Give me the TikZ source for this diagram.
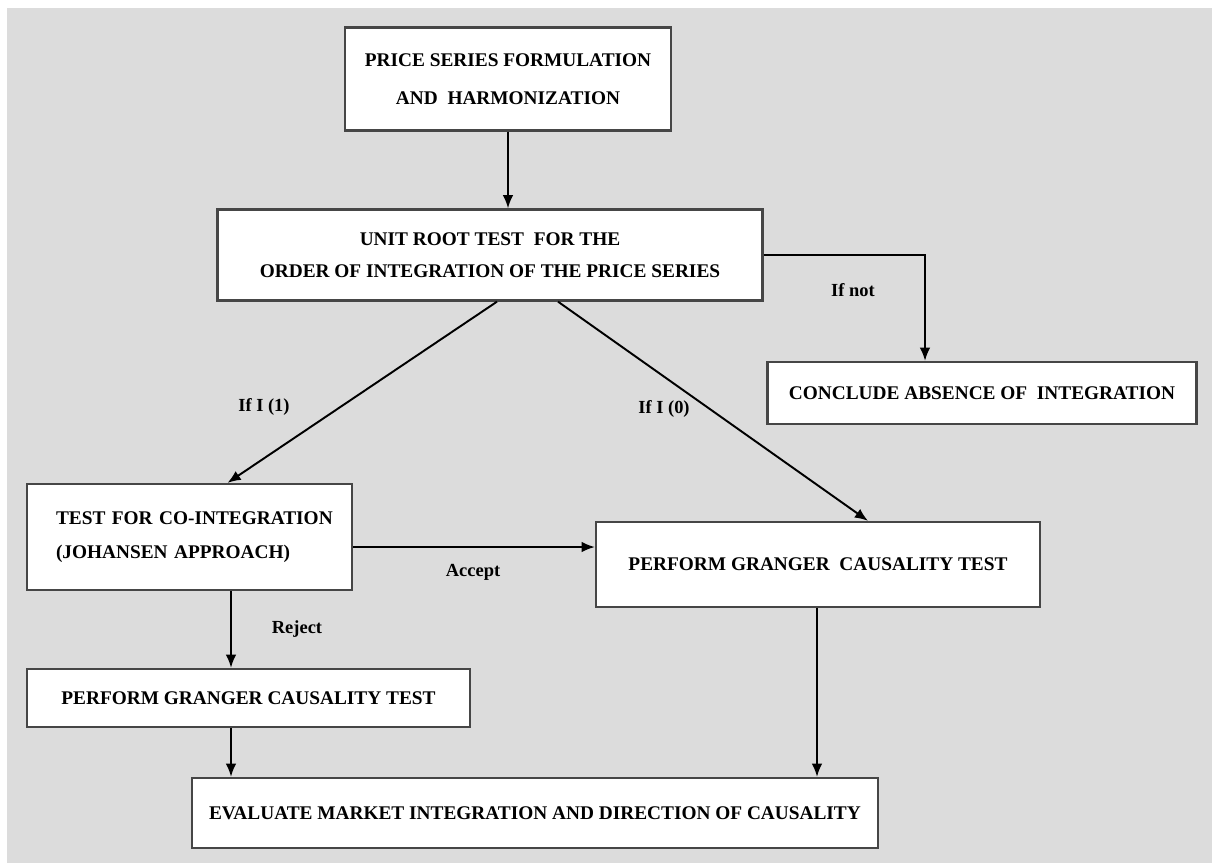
\documentclass[tikz,border=0pt]{standalone}
\usepackage{fontspec}
\setmainfont{Liberation Serif}
\usetikzlibrary{arrows.meta,calc}
\definecolor{bgGray}{RGB}{220,220,220}
\definecolor{boxLine}{RGB}{70,70,70}

\begin{document}
\begin{tikzpicture}[x=0.02cm,y=-0.02cm,
    box/.style={draw=boxLine,line width=1.3pt,fill=white,align=center,inner sep=0pt,
        font=\bfseries\fontsize{11}{18}\selectfont},
    arr/.style={-{Latex[length=7.5pt,width=6pt]},line width=1.1pt},
    lbl/.style={font=\bfseries\fontsize{10.5}{13}\selectfont}]

        % page with the grey panel
        \useasboundingbox (0,0) rectangle (1212,863);
        \fill[white] (0,0) rectangle (1212,863);
        \fill[bgGray] (7,8) rectangle (1212,863);

        % boxes
        \node[box,minimum width=6.52cm,minimum height=2.06cm,font=\bfseries\fontsize{11}{21.5}\selectfont]
            (prep) at (508,79) {PRICE SERIES FORMULATION\\AND\ \ HARMONIZATION};
        \node[box,minimum width=10.9cm,minimum height=1.82cm]
            (unitroot) at (490,255) {UNIT ROOT TEST\ \ FOR THE\\ORDER OF INTEGRATION OF THE PRICE SERIES};
        \node[box,minimum width=8.58cm,minimum height=1.24cm]
            (absent) at (982,393) {CONCLUDE ABSENCE OF\ \ INTEGRATION};
        \node[box,text width=5.34cm,inner xsep=0.58cm,align=left,minimum height=2.12cm,font=\bfseries\fontsize{11}{19}\selectfont]
            (coint) at (189.5,537) {\mbox{TEST FOR CO-INTEGRATION}\\(JOHANSEN APPROACH)};
        \node[box,minimum width=8.88cm,minimum height=1.7cm]
            (grangerR) at (818,564.5) {PERFORM GRANGER\ \ CAUSALITY TEST};
        \node[box,minimum width=8.86cm,minimum height=1.16cm]
            (grangerL) at (248.5,698) {PERFORM GRANGER CAUSALITY TEST};
        \node[box,minimum width=13.72cm,minimum height=1.4cm]
            (evaluate) at (535,813) {EVALUATE MARKET INTEGRATION AND DIRECTION OF CAUSALITY};

        % columns and bends for the arrows
        \coordinate (colA) at (231,0);
        \coordinate (colB) at (817,0);
        \coordinate (knee) at (925,255);
        \coordinate (acc) at ($(coint.east)+(0,10)$);

        % connectors
        \draw[arr] (prep.south) -- (prep.south |- unitroot.north);
        \draw[arr] (unitroot.east) -- (knee) -- (knee |- absent.north);
        \draw[arr] ($(unitroot.south)+(7,0)$) -- ($(coint.north)+(38,0)$);
        \draw[arr] ($(unitroot.south)+(68,0)$) -- ($(grangerR.north)+(50,0)$);
        \draw[arr] (acc) -- (acc -| grangerR.west);
        \draw[arr] (coint.south -| colA) -- (grangerL.north -| colA);
        \draw[arr] (grangerL.south -| colA) -- (evaluate.north -| colA);
        \draw[arr] (grangerR.south -| colB) -- (evaluate.north -| colB);

        % labels
        \node[lbl] (ifnot) at (853,290) {If not};
        \node[lbl] (ifone) at (264,407) {If I (1)};
        \node[lbl] (ifzero) at (664,409) {If I (0)};
        \node[lbl] (accept) at (473,572) {Accept};
        \node[lbl] (reject) at (297,629) {Reject};

    \end{tikzpicture}
\end{document}
